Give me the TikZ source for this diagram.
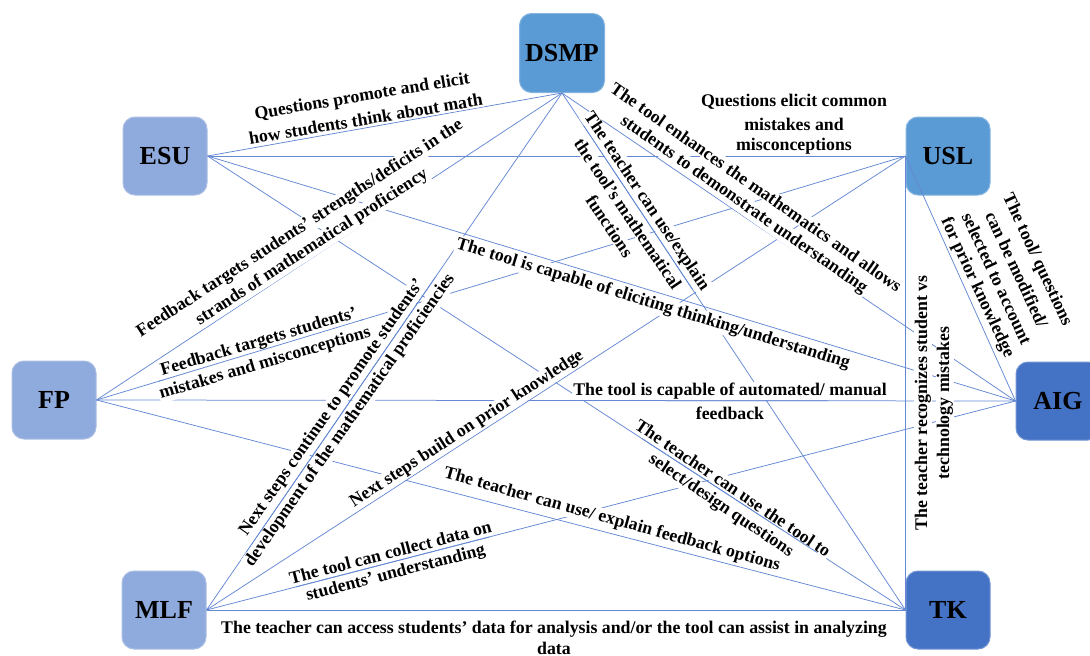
\documentclass[tikz,border=0pt]{standalone}
\usepackage{fontspec}
\setmainfont{Liberation Serif}
\definecolor{cLight}{HTML}{8FAADC}
\definecolor{cMid}{HTML}{5B9BD5}
\definecolor{cDark}{HTML}{4472C4}
\definecolor{cLine}{RGB}{100,136,212}
% two-, three- and four-line labels, one node per text line
\newcommand{\labtwo}[6]{%
  \begin{scope}[shift={(#2,#3)}, rotate=#4, every node/.append style={transform shape}]
    \node[lbl] (#1a) at (0,-11) {#5};
    \node[lbl] (#1b) at (0,11) {#6};
  \end{scope}}
\newcommand{\labthree}[7]{%
  \begin{scope}[shift={(#2,#3)}, rotate=#4, every node/.append style={transform shape}]
    \node[lbl] (#1a) at (0,-22) {#5};
    \node[lbl] (#1b) at (0,0) {#6};
    \node[lbl] (#1c) at (0,22) {#7};
  \end{scope}}
\newcommand{\labfour}[8]{%
  \begin{scope}[shift={(#2,#3)}, rotate=#4, every node/.append style={transform shape}]
    \node[lbl] (#1a) at (0,-33) {#5};
    \node[lbl] (#1b) at (0,-11) {#6};
    \node[lbl] (#1c) at (0,11) {#7};
    \node[lbl] (#1d) at (0,33) {#8};
  \end{scope}}
% connector redrawn on top, only between two lines of its own label
\newcommand{\ownline}[4]{%
  \begin{scope}
    \clip (#1.north west) -- (#1.north east) -- (#2.south east) -- (#2.south west) -- cycle;
    \draw[conn] (#3) -- (#4);
  \end{scope}}
\begin{document}
\begin{tikzpicture}[x=1pt,y=-1pt,
  box/.style={rounded corners=12pt, minimum width=84pt, minimum height=78pt,
    font=\fontsize{26}{30}\selectfont\bfseries, inner sep=0pt, line width=1pt},
  lightbox/.style={box, fill=cLight, draw=cLight!75!white},
  midbox/.style={box, fill=cMid, draw=cMid!75!white},
  darkbox/.style={box, fill=cDark, draw=cDark!75!white},
  conn/.style={draw=cLine, line width=0.75pt},
  lbl/.style={font=\fontsize{17.8}{22}\selectfont\bfseries, align=center, fill=white, inner sep=1pt}]
\useasboundingbox (0,0) rectangle (1090,656);
\fill[white] (0,0) rectangle (1090,656);

% nodes
\node[midbox, minimum width=85pt, minimum height=79pt] (dsmp) at (562,53) {DSMP};
\node[lightbox] (esu) at (165,156) {ESU};
\node[midbox] (usl) at (948,156) {USL};
\node[lightbox] (fp) at (54,400) {FP};
\node[darkbox] (aig) at (1058,401) {AIG};
\node[lightbox] (mlf) at (164,610) {MLF};
\node[darkbox] (tk) at (948,610) {TK};

% connectors
\draw[conn] (esu.east) -- (dsmp.south);
\draw[conn] (esu.east) -- (usl.west);
\draw[conn] (esu.east) -- (aig.west);
\draw[conn] (esu.east) -- (tk.west);
\draw[conn] (fp.east) -- (dsmp.south);
\draw[conn] (mlf.east) -- (dsmp.south);
\draw[conn] (dsmp.south) -- (aig.west);
\draw[conn] (dsmp.south) -- (tk.west);
\draw[conn] (fp.east) -- (usl.west);
\draw[conn] (mlf.east) -- (usl.west);
\draw[conn] (usl.west) -- (tk.west);
\draw[conn] (usl.west) -- (aig.west);
\draw[conn] (fp.east) -- (aig.west);
\draw[conn] (fp.east) -- (tk.west);
\draw[conn] (mlf.east) -- (aig.west);
\draw[conn] (mlf.east) -- (tk.west);

% labels
\labtwo{l1}{364}{108}{9.5}{Questions promote and elicit}{how students think about math}
\labthree{l2}{794}{124}{0}{Questions elicit common}{mistakes and}{misconceptions}
\labtwo{l4}{727}{497}{-34}{The teacher can use the tool to}{select/design questions}
\labtwo{l5}{306}{238}{33}{Feedback targets students’ strengths/deficits in the}{strands of mathematical proficiency}
\labtwo{l6}{341}{414}{55}{Next steps continue to promote students’}{development of the mathematical proficiencies}
\labtwo{l7}{750}{196}{-35}{The tool enhances the mathematics and allows}{students to demonstrate understanding}
\labthree{l8}{628}{214}{-56}{The teacher can use/explain}{the tool’s mathematical}{functions}
\labtwo{l9}{262}{353}{16.5}{Feedback targets students’}{mistakes and misconceptions}
\node[lbl, rotate=33] (l10) at (467,429) {Next steps build on prior knowledge};
\labtwo{l11}{934}{403}{90}{The teacher recognizes student vs}{technology mistakes}
\labfour{l12}{1007}{274}{-65}{The tool/ questions}{can be modified/}{selected to account}{for prior knowledge}
\labtwo{l13}{730}{402}{0}{The tool is capable of automated/ manual}{feedback}
\node[lbl, rotate=-15.5] (l14) at (612,520) {The teacher can use/ explain feedback options};
\labtwo{l15}{393}{563}{14.5}{The tool can collect data on}{students’ understanding}
\node[lbl] (l16a) at (554,629) {The teacher can access students’ data for analysis and/or the tool can assist in analyzing};
\node[lbl] (l16b) at (554,648) {data};

% owner connectors passing between the lines of their labels
\ownline{l4a}{l4b}{esu.east}{tk.west}
\ownline{l6a}{l6b}{mlf.east}{dsmp.south}
\ownline{l8a}{l8b}{dsmp.south}{tk.west}
\ownline{l9a}{l9b}{fp.east}{usl.west}
\ownline{l13a}{l13b}{fp.east}{aig.west}
\ownline{l15a}{l15b}{mlf.east}{aig.west}

\node[lbl, rotate=-17] (l3) at (653,304) {The tool is capable of eliciting thinking/understanding};
\end{tikzpicture}
\end{document}
